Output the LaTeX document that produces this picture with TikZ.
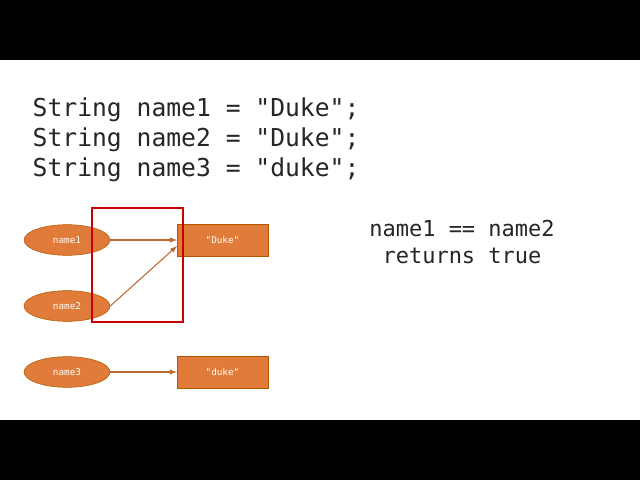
\documentclass[tikz,border=0pt]{standalone}
\usepackage{fontspec}
\setmonofont{DejaVu Sans Mono}
\usetikzlibrary{shapes.geometric}
\begin{document}
\begin{tikzpicture}[x=0.75pt,y=-0.75pt,
  ell/.style={ellipse,draw=orange!70!black,fill=ora,minimum width=64.5pt,minimum height=23pt,inner sep=0pt,text=white,font=\ttfamily\fontsize{7}{8}\selectfont},
  box/.style={rectangle,draw=orange!70!black,fill=ora,minimum width=68pt,minimum height=24pt,inner sep=0pt,text=white,font=\ttfamily\fontsize{7}{8}\selectfont},
  arr/.style={draw=ora!85!black,line width=0.8pt,-latex},
  code/.style={anchor=west,font=\ttfamily\fontsize{18.5}{22}\selectfont,text=black!85}]
\definecolor{ora}{HTML}{E07B39}
\fill[black] (0,0) rectangle (640,480);
\fill[white] (0,60) rectangle (640,420);
\node[code] (c1) at (28,110) {String name1 = "Duke";};
\node[code] (c2) at (28,140) {String name2 = "Duke";};
\node[code] (c3) at (28,170) {String name3 = "duke";};
\node[ell] (n1) at (67,240) {name1};
\node[ell] (n2) at (67,306) {name2};
\node[ell] (n3) at (67,372) {name3};
\node[box] (d1) at (222.5,240) {"Duke"};
\node[box] (d3) at (222.5,372) {"duke"};
\coordinate (t2) at (177,246);
\draw[arr] (n1) -- (d1);
\draw[arr] (n2.east) -- (t2);
\draw[arr] (n3) -- (d3);
\node[draw=red!80!black,line width=1pt,minimum width=68.25pt,minimum height=85.5pt,inner sep=0pt] (rb) at (137.5,265) {};
\node[font=\ttfamily\fontsize{16.5}{20}\selectfont,text=black!85,align=center] (r) at (462,242) {name1 == name2\\returns true};
\end{tikzpicture}
\end{document}
